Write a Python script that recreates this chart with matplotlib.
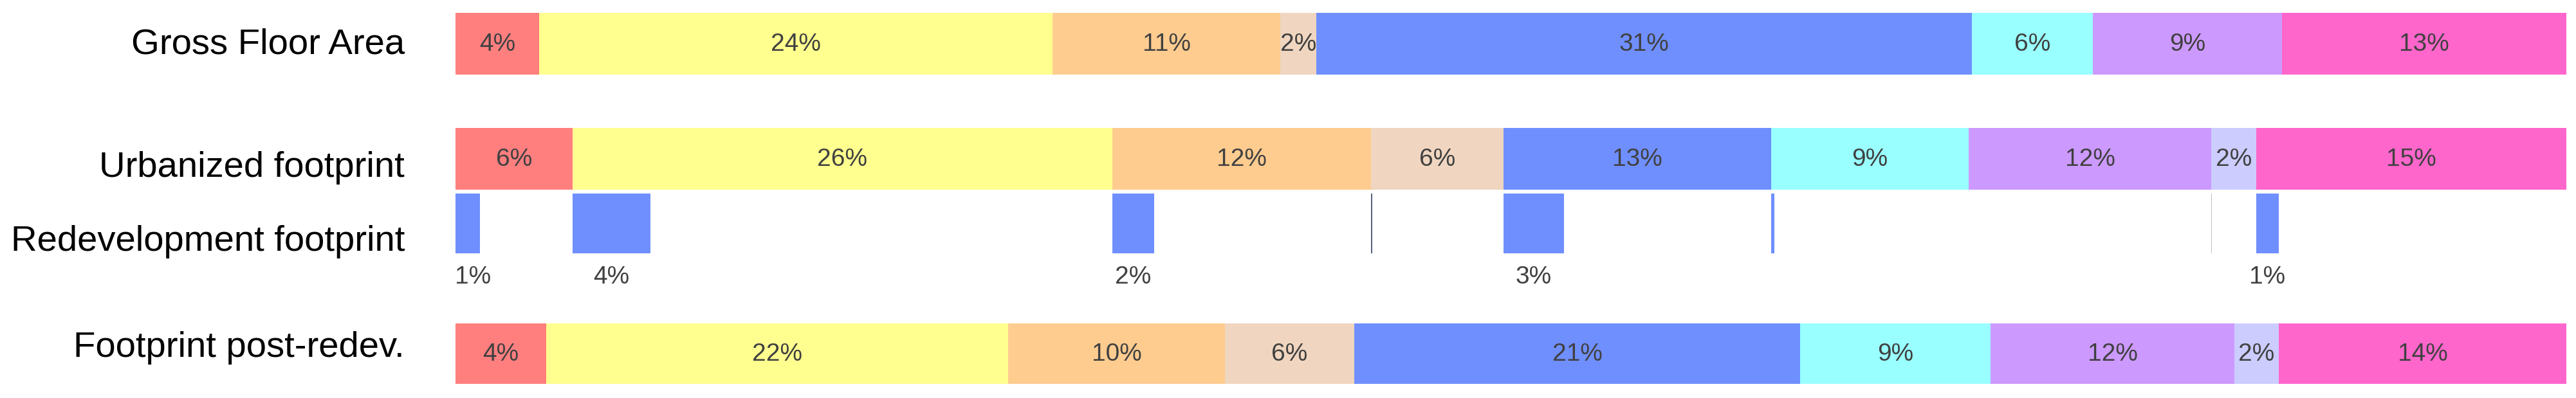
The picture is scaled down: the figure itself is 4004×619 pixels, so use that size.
import matplotlib
matplotlib.use("Agg")
import matplotlib.pyplot as plt

# ---- data ----
categories = ["c1", "c2", "c3", "c4", "c5", "c6", "c7", "c8", "c9"]
row_labels = ["Gross Floor Area", "Urbanized footprint", "Redevelopment footprint", "Footprint post-redev."]
gfa = [3.95, 24.34, 10.80, 1.69, 31.07, 5.74, 8.95, 0.0, 13.48]
urbanized = [5.55, 25.57, 12.25, 6.29, 12.69, 9.34, 11.51, 2.11, 14.72]
redevelopment = [1.17, 3.68, 1.98, 0.07, 2.86, 0.15, 0.0, 0.03, 1.08]
post_redev = [4.30, 21.89, 10.26, 6.15, 21.11, 9.03, 11.56, 2.08, 13.64]

# ---- style ----
colors = ["#FF7F7F", "#FFFF8F", "#FFCC8F", "#F0D6C0", "#6F8FFF",
          "#99FFFF", "#CC99FF", "#CCCCFF", "#FF66CC"]
redev_color = "#6F8FFF"
redev_line_colors = {3: "#56627E", 7: "#C0C0C0"}

W, H = 4004, 619
fig = plt.figure(figsize=(W / 100, H / 100), dpi=100)
ax = fig.add_axes([708 / W, 0, 3280.5 / W, 1])
ax.set_xlim(0, 100)
ax.set_ylim(H, 0)
ax.axis("off")

row_y = [68, 247, 347, 550]
row_h = [96, 96, 93, 94]
label_base = [83, 275, 390, 555]

pct_font = dict(family="Liberation Sans", fontsize=28, color="#404040")


def stacked(vals, y, h):
    left = 0.0
    for i, v in enumerate(vals):
        if v > 0:
            ax.barh(y, v, left=left, height=h, color=colors[i], linewidth=0)
            ax.text(left + v / 2, y + 1, f"{v:.0f}%", ha="center", va="center", **pct_font)
        left += v


stacked(gfa, row_y[0], row_h[0])
stacked(urbanized, row_y[1], row_h[1])
stacked(post_redev, row_y[3], row_h[3])

# redevelopment: drawn at the start of each urbanized segment
left = 0.0
for i, (u, r) in enumerate(zip(urbanized, redevelopment)):
    if r > 0:
        c = redev_line_colors.get(i, redev_color)
        ax.barh(row_y[2], r, left=left, height=row_h[2], color=c, linewidth=0)
        if r >= 0.5:
            ax.text(max(left + r / 2, 0.84), 431, f"{r:.0f}%", ha="center", va="center", **pct_font)
    left += u

# row labels
for lab, yb in zip(row_labels, label_base):
    fig.text(629 / W, 1 - yb / H, lab, ha="right", va="baseline",
             family="Liberation Sans", fontsize=40.5, color="black")

fig.savefig("out.png", dpi=100, facecolor="white")
